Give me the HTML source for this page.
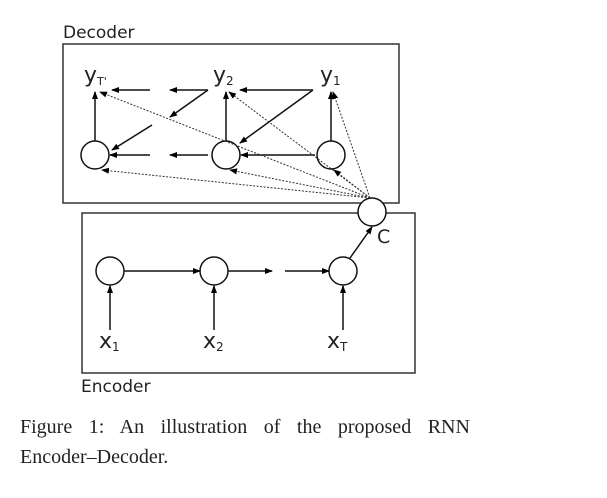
<!DOCTYPE html>
<html><head><style>
body{margin:0;background:#fff;width:607px;height:493px;overflow:hidden}
</style></head><body>
<svg width="607" height="493" xmlns="http://www.w3.org/2000/svg">
<defs><marker id="a" markerWidth="8" markerHeight="8" refX="7" refY="4" orient="auto" markerUnits="userSpaceOnUse"><path d="M0,1 L8,4 L0,7 z" fill="#000"/></marker></defs>
<g font-family="'DejaVu Sans',sans-serif" fill="#222">
<text x="63" y="38" font-size="17">Decoder</text>
<text x="81" y="392" font-size="17">Encoder</text>
<text x="84" y="82" font-size="22">y<tspan font-size="11" dy="3">T'</tspan></text>
<text x="213" y="82" font-size="22">y<tspan font-size="12" dy="3">2</tspan></text>
<text x="320" y="82" font-size="22">y<tspan font-size="12" dy="3">1</tspan></text>
<text x="99" y="348" font-size="22">x<tspan font-size="12" dy="3">1</tspan></text>
<text x="203" y="348" font-size="22">x<tspan font-size="12" dy="3">2</tspan></text>
<text x="327" y="348" font-size="22">x<tspan font-size="12" dy="3">T</tspan></text>
<text x="377" y="243" font-size="19">C</text>
</g>
<g fill="none" stroke="#333" stroke-width="1.5">
<rect x="63" y="44" width="336" height="159"/>
<rect x="82" y="213" width="333" height="160"/>
</g>
<g fill="#fff" stroke="#111" stroke-width="1.5">
<circle cx="95" cy="155" r="14"/><circle cx="226" cy="155" r="14"/><circle cx="331" cy="155" r="14"/>
<circle cx="110" cy="271" r="14"/><circle cx="214" cy="271" r="14"/><circle cx="343" cy="271" r="14"/>
<circle cx="372" cy="212" r="14"/>
</g>
<g stroke="#111" stroke-width="1.5" marker-end="url(#a)">
<line x1="313" y1="90" x2="240" y2="90"/><line x1="208" y1="90" x2="170" y2="90"/><line x1="150" y1="90" x2="112" y2="90"/>
<line x1="313" y1="90" x2="240" y2="143"/><line x1="208" y1="90" x2="170" y2="117"/><line x1="152" y1="125" x2="112" y2="150"/>
<line x1="315" y1="155" x2="241" y2="155"/><line x1="208" y1="155" x2="170" y2="155"/><line x1="150" y1="155" x2="110" y2="155"/>
<line x1="95" y1="141" x2="95" y2="92"/><line x1="226" y1="141" x2="226" y2="92"/><line x1="331" y1="141" x2="331" y2="92"/>
<line x1="124" y1="271" x2="200" y2="271"/><line x1="228" y1="271" x2="272" y2="271"/><line x1="285" y1="271" x2="329" y2="271"/>
<line x1="110" y1="330" x2="110" y2="286"/><line x1="214" y1="330" x2="214" y2="286"/><line x1="343" y1="330" x2="343" y2="286"/>
<line x1="350" y1="258" x2="372" y2="227"/>
</g>
<g stroke="#333" stroke-width="1" stroke-dasharray="2,1.5" marker-end="url(#a)">
<line x1="370" y1="198" x2="100" y2="92"/><line x1="370" y1="198" x2="229" y2="92"/><line x1="370" y1="198" x2="333" y2="92"/>
<line x1="370" y1="198" x2="102" y2="170"/><line x1="370" y1="198" x2="230" y2="170"/><line x1="370" y1="198" x2="334" y2="170"/>
</g>
<g font-family="'Liberation Serif',serif" font-size="20" fill="#222">
<text x="20" y="433" word-spacing="11.5">Figure 1:  An illustration of the proposed RNN</text>
<text x="20" y="463">Encoder–Decoder.</text>
</g>
</svg>
</body></html>
